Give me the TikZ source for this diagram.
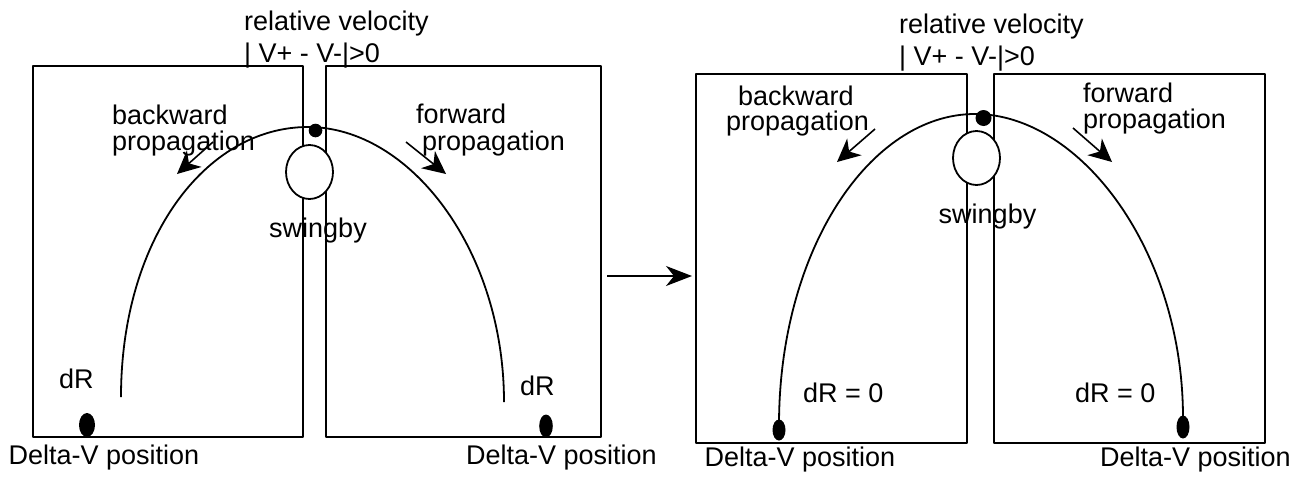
\documentclass[tikz,border=0pt]{standalone}
\usepackage{fontspec}
\setmainfont{Liberation Sans}
\usetikzlibrary{arrows.meta}
\begin{document}
\begin{tikzpicture}[x=1pt,y=-1pt,line join=round,
  panel/.style={draw,line width=1.8pt},
  orbit/.style={draw,line width=1.8pt},
  planet/.style={draw,fill=white,line width=1.8pt},
  lbl/.style={font=\fontsize{27}{27}\selectfont,inner sep=0pt,anchor=base west},
  clbl/.style={font=\fontsize{27}{27}\selectfont,inner sep=0pt,anchor=base},
  parrow/.style={draw,line width=1.6pt,-{Stealth[length=23pt,width=22pt,inset=7pt]}},
  bigarrow/.style={draw,line width=1.6pt,-{Stealth[length=26pt,width=20pt,inset=8pt]}}]
\useasboundingbox (0,0) rectangle (1306,477);
% ---------------- left panel ----------------
\draw[panel] (33,66) rectangle (303,437);
\draw[panel] (326,66) rectangle (601,437);
\coordinate (Ls) at (121,397);
\coordinate (Lt) at (308,127);
\coordinate (Le) at (504,402);
\draw[orbit] (Ls) .. controls (121,240) and (205,127) .. (Lt)
             .. controls (410,127) and (504,250) .. (Le);
\draw[planet] (309.5,172) ellipse [x radius=23.5pt,y radius=27pt];
\fill (315.5,130.5) ellipse [x radius=6.8pt,y radius=6.8pt];
\fill (87,425) ellipse [x radius=8pt,y radius=12pt];
\fill (546,426) ellipse [x radius=6.8pt,y radius=11.5pt];
\coordinate (lb1) at (213,142); \coordinate (lb2) at (177,174);
\draw[parrow] (lb1) -- (lb2);
\coordinate (lf1) at (406,142); \coordinate (lf2) at (446,174);
\draw[parrow] (lf1) -- (lf2);
\node[lbl] (lrv1) at (244,30) {relative velocity};
\node[lbl] (lrv2) at (244,62.5) {| V+ - V-|>0};
\node[lbl] (lbk1) at (112,124) {backward};
\node[lbl] (lbk2) at (112,150) {propagation};
\node[lbl] (lfw1) at (416,123) {forward};
\node[lbl] (lfw2) at (422,150) {propagation};
\node[clbl] (lsw) at (318,237) {swingby};
\node[lbl] (ldr1) at (59,388) {dR};
\node[lbl] (ldr2) at (520,395) {dR};
\node[lbl] (ldv1) at (8.5,464) {Delta-V position};
\node[lbl] (ldv2) at (466,464) {Delta-V position};
% ---------------- transition arrow ----------------
\coordinate (ta1) at (607,276); \coordinate (ta2) at (692,276);
\draw[bigarrow] (ta1) -- (ta2);
% ---------------- right panel ----------------
\draw[panel] (696,74) rectangle (967,443);
\draw[panel] (994,74) rectangle (1265,443);
\coordinate (Rs) at (779,425);
\coordinate (Rt) at (975,114);
\coordinate (Re) at (1183,418);
\draw[orbit] (Rs) .. controls (779,250) and (870,114) .. (Rt)
             .. controls (1080,114) and (1183,250) .. (Re);
\draw[planet] (976.5,158) ellipse [x radius=23.5pt,y radius=27pt];
\fill (983.5,118) ellipse [x radius=8pt,y radius=8pt];
\fill (779,430) ellipse [x radius=6.5pt,y radius=10.5pt];
\fill (1183,427) ellipse [x radius=6.5pt,y radius=11.5pt];
\coordinate (rb1) at (875,129); \coordinate (rb2) at (837,162);
\draw[parrow] (rb1) -- (rb2);
\coordinate (rf1) at (1073,128); \coordinate (rf2) at (1112,162);
\draw[parrow] (rf1) -- (rf2);
\node[lbl] (rrv1) at (899,33) {relative velocity};
\node[lbl] (rrv2) at (899,65) {| V+ - V-|>0};
\node[lbl] (rbk1) at (738,105) {backward};
\node[lbl] (rbk2) at (726,130) {propagation};
\node[lbl] (rfw1) at (1083,102) {forward};
\node[lbl] (rfw2) at (1083,128) {propagation};
\node[clbl] (rsw) at (987.5,223) {swingby};
\node[lbl] (rdr1) at (803,402) {dR = 0};
\node[lbl] (rdr2) at (1075,402) {dR = 0};
\node[lbl] (rdv1) at (704.5,466) {Delta-V position};
\node[lbl] (rdv2) at (1100,466) {Delta-V position};
\end{tikzpicture}
\end{document}
